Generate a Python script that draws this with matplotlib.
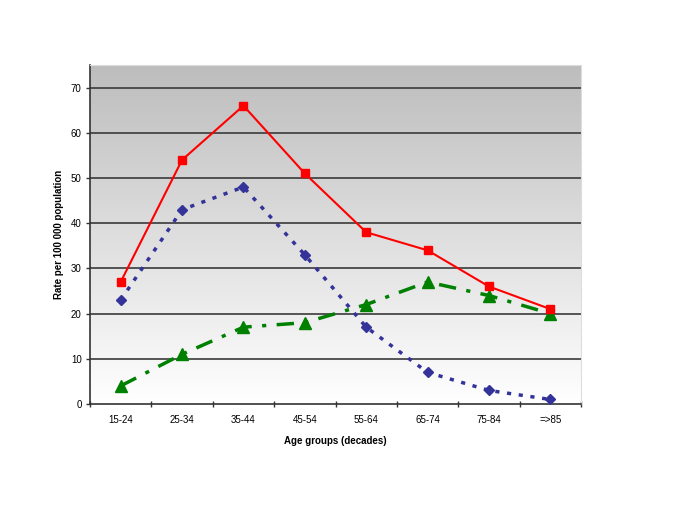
import matplotlib
matplotlib.use('Agg')
from matplotlib import pyplot as plt
import numpy as np

age_groups = ['15-24', '25-34', '35-44', '45-54', '55-64', '65-74', '75-84', '=>85']
red_vals = [27, 54, 66, 51, 38, 34, 26, 21]
blue_vals = [23, 43, 48, 33, 17, 7, 3, 1]
green_vals = [4, 11, 17, 18, 22, 27, 24, 20]

plt.rcParams['font.family'] = ['Liberation Sans', 'DejaVu Sans']

fig = plt.figure(figsize=(6.85, 5.12), dpi=100)
ax = fig.add_axes([90 / 685, 108 / 512, 491 / 685, 339 / 512])

# gray-to-white gradient background
grad = np.linspace(0, 1, 256).reshape(-1, 1)
ax.imshow(grad, cmap=matplotlib.colors.LinearSegmentedColormap.from_list('g', ['#bdbdbd', '#ffffff']),
          extent=[0, 1, 0, 1], transform=ax.transAxes, aspect='auto', zorder=0)

x = np.arange(len(age_groups))
ax.set_xlim(-0.5, len(age_groups) - 0.5)
ax.set_ylim(0, 75)

for v in range(10, 80, 10):
    ax.axhline(v, color='#3a3a3a', lw=1.2, zorder=1)

ax.plot(x, red_vals, color='#ff0000', lw=1.5, marker='s', ms=6, zorder=4)
ax.plot(x, blue_vals, color='#333399', lw=2.5, ls=(0, (1.2, 2.2)), marker='D', ms=5.5, zorder=3)
ax.plot(x, green_vals, color='#008000', lw=2.5, ls=(0, (5, 3, 1.2, 3)), marker='^', ms=8, zorder=3)

ax.set_xticks(np.arange(-0.5, len(age_groups), 1.0))
ax.set_xticklabels([])
ax.set_xticks(x, minor=True)
ax.set_xticklabels(age_groups, minor=True)
ax.tick_params(axis='x', which='major', length=5, width=1, color='#333333', direction='inout')
ax.tick_params(axis='x', which='minor', length=0, labelsize=7, pad=8)
ax.set_yticks(range(0, 80, 10))
ax.tick_params(axis='y', length=3, width=1, color='#333333', labelsize=7, pad=3)

for s in ['left', 'bottom']:
    ax.spines[s].set_color('#333333')
    ax.spines[s].set_linewidth(1.2)
ax.spines['top'].set_color('#dddddd')
ax.spines['right'].set_color('#dddddd')

ax.set_xlabel('Age groups (decades)', fontsize=7, fontweight='bold', labelpad=8)
ax.set_ylabel('Rate per 100 000 population', fontsize=7, fontweight='bold', labelpad=5)

fig.savefig('out.png', dpi=100)
